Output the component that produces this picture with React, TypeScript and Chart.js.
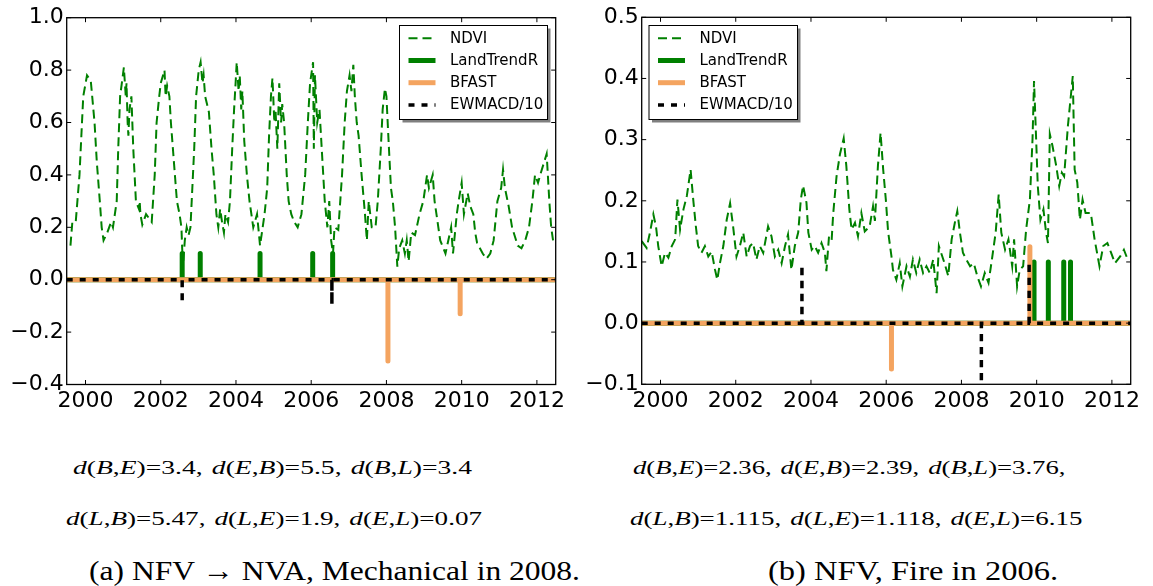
import React, { useEffect, useLayoutEffect, useRef } from 'react';
import { Chart, registerables } from 'chart.js';

Chart.register(...registerables);

// ---------------- data ----------------
const seriesStart = 1999.5;
const seriesEnd = 2012.5;
const xTickYears = [2000, 2002, 2004, 2006, 2008, 2010, 2012];
const yTicksA = [-0.4, -0.2, 0.0, 0.2, 0.4, 0.6, 0.8, 1.0];
const yTicksB = [-0.1, 0.0, 0.1, 0.2, 0.3, 0.4, 0.5];
const seriesLabels = ['NDVI', 'LandTrendR', 'BFAST', 'EWMACD/10'];

// panel (a): NFV -> NVA, mechanical 2008
const ndviYearsA = [
  1999.60, 1999.65, 1999.74, 1999.84, 1999.94, 2000.04, 2000.14, 2000.24, 2000.30, 2000.38,
  2000.43, 2000.48, 2000.58, 2000.68, 2000.73, 2000.83, 2000.87, 2000.92, 2001.02, 2001.07,
  2001.09, 2001.12, 2001.14, 2001.17, 2001.22, 2001.27, 2001.34, 2001.42, 2001.44, 2001.46,
  2001.51, 2001.61, 2001.71, 2001.76, 2001.84, 2001.89, 2001.96, 2002.00, 2002.10, 2002.13,
  2002.17, 2002.23, 2002.27, 2002.35, 2002.43, 2002.50, 2002.55, 2002.57, 2002.59, 2002.64,
  2002.69, 2002.74, 2002.79, 2002.84, 2002.89, 2002.94, 2003.01, 2003.06, 2003.11, 2003.14,
  2003.18, 2003.28, 2003.35, 2003.41, 2003.48, 2003.53, 2003.58, 2003.63, 2003.68, 2003.72,
  2003.79, 2003.84, 2003.90, 2003.95, 2003.99, 2004.02, 2004.07, 2004.10, 2004.14, 2004.17,
  2004.22, 2004.29, 2004.36, 2004.46, 2004.56, 2004.64, 2004.71, 2004.76, 2004.83, 2004.88,
  2004.93, 2004.97, 2005.02, 2005.05, 2005.10, 2005.15, 2005.20, 2005.23, 2005.28, 2005.35,
  2005.40, 2005.47, 2005.55, 2005.64, 2005.74, 2005.84, 2005.91, 2005.97, 2006.05, 2006.07,
  2006.10, 2006.16, 2006.22, 2006.28, 2006.36, 2006.43, 2006.48, 2006.53, 2006.58, 2006.62,
  2006.72, 2006.82, 2006.89, 2006.95, 2007.02, 2007.07, 2007.12, 2007.16, 2007.21, 2007.26,
  2007.34, 2007.43, 2007.48, 2007.53, 2007.61, 2007.71, 2007.77, 2007.85, 2007.90, 2007.96,
  2008.00, 2008.05, 2008.12, 2008.17, 2008.23, 2008.29, 2008.34, 2008.42, 2008.49, 2008.54,
  2008.59, 2008.66, 2008.76, 2008.88, 2008.98, 2009.08, 2009.13, 2009.23, 2009.28, 2009.38,
  2009.43, 2009.57, 2009.72, 2009.77, 2009.87, 2009.92, 2010.00, 2010.06, 2010.16, 2010.23,
  2010.31, 2010.36, 2010.41, 2010.56, 2010.66, 2010.76, 2010.85, 2010.95, 2011.05, 2011.10,
  2011.15, 2011.25, 2011.34, 2011.49, 2011.59, 2011.69, 2011.79, 2011.88, 2011.95, 2012.03,
  2012.13, 2012.26, 2012.33, 2012.38, 2012.43,
];
const ndviValuesA = [
  0.13, 0.22, 0.22, 0.40, 0.70, 0.78, 0.76, 0.60, 0.45, 0.30,
  0.20, 0.15, 0.18, 0.22, 0.20, 0.30, 0.50, 0.70, 0.81, 0.70,
  0.75, 0.60, 0.55, 0.65, 0.70, 0.50, 0.30, 0.27, 0.30, 0.25,
  0.21, 0.25, 0.23, 0.22, 0.40, 0.60, 0.70, 0.75, 0.80, 0.70,
  0.74, 0.70, 0.60, 0.45, 0.30, 0.25, 0.20, 0.12, 0.05, 0.15,
  0.20, 0.17, 0.20, 0.35, 0.50, 0.70, 0.80, 0.83, 0.75, 0.78,
  0.70, 0.64, 0.50, 0.40, 0.25, 0.20, 0.27, 0.22, 0.18, 0.25,
  0.22, 0.30, 0.50, 0.65, 0.75, 0.83, 0.72, 0.78, 0.65, 0.72,
  0.53, 0.40, 0.30, 0.20, 0.25, 0.13, 0.20, 0.25, 0.35, 0.55,
  0.70, 0.77, 0.60, 0.65, 0.50, 0.75, 0.60, 0.67, 0.60, 0.40,
  0.30, 0.25, 0.22, 0.20, 0.25, 0.40, 0.60, 0.75, 0.83, 0.50,
  0.78, 0.60, 0.65, 0.50, 0.30, 0.20, 0.30, 0.15, 0.10, 0.20,
  0.19, 0.40, 0.60, 0.72, 0.78, 0.72, 0.82, 0.70, 0.60, 0.55,
  0.40, 0.25, 0.15, 0.30, 0.20, 0.20, 0.30, 0.50, 0.65, 0.73,
  0.70, 0.55, 0.35, 0.30, 0.20, 0.05, 0.12, 0.15, 0.10, 0.15,
  0.07, 0.18, 0.17, 0.25, 0.30, 0.40, 0.35, 0.40, 0.30, 0.20,
  0.15, 0.10, 0.20, 0.10, 0.25, 0.30, 0.37, 0.25, 0.33, 0.28,
  0.25, 0.18, 0.14, 0.10, 0.08, 0.10, 0.15, 0.30, 0.35, 0.42,
  0.35, 0.28, 0.20, 0.13, 0.12, 0.15, 0.20, 0.30, 0.40, 0.37,
  0.42, 0.48, 0.30, 0.20, 0.15,
];
const ltrBreaksA = [2002.57, 2003.05, 2004.64, 2006.04, 2006.57];
const ltrHeightsA = [0.1, 0.1, 0.1, 0.1, 0.1];
const bfastBreaksA = [2008.04, 2009.96];
const bfastMagsA = [-0.31, -0.13];
const ewmacdBreaksA = [2002.57, 2006.55];
const ewmacdMagsA = [-0.09, -0.095];

// panel (b): NFV, fire 2006
const ndviYearsB = [
  1999.50, 1999.63, 1999.72, 1999.81, 1999.88, 1999.94, 2000.03, 2000.12, 2000.21, 2000.30,
  2000.39, 2000.45, 2000.52, 2000.61, 2000.70, 2000.80, 2000.87, 2000.94, 2001.00, 2001.09,
  2001.18, 2001.27, 2001.36, 2001.45, 2001.51, 2001.58, 2001.67, 2001.76, 2001.85, 2001.93,
  2002.02, 2002.11, 2002.20, 2002.29, 2002.38, 2002.46, 2002.55, 2002.64, 2002.73, 2002.86,
  2002.95, 2003.04, 2003.13, 2003.22, 2003.31, 2003.39, 2003.48, 2003.57, 2003.66, 2003.73,
  2003.79, 2003.88, 2003.93, 2004.02, 2004.10, 2004.19, 2004.28, 2004.37, 2004.41, 2004.48,
  2004.55, 2004.59, 2004.68, 2004.77, 2004.87, 2004.94, 2005.02, 2005.08, 2005.17, 2005.25,
  2005.34, 2005.43, 2005.56, 2005.65, 2005.70, 2005.78, 2005.85, 2005.92, 2005.99, 2006.05,
  2006.14, 2006.18, 2006.27, 2006.36, 2006.43, 2006.54, 2006.63, 2006.71, 2006.80, 2006.89,
  2006.98, 2007.07, 2007.16, 2007.25, 2007.34, 2007.40, 2007.55, 2007.65, 2007.74, 2007.84,
  2007.89, 2007.96, 2008.04, 2008.13, 2008.23, 2008.33, 2008.42, 2008.52, 2008.62, 2008.72,
  2008.81, 2008.91, 2008.99, 2009.06, 2009.16, 2009.25, 2009.35, 2009.40, 2009.48, 2009.55,
  2009.64, 2009.72, 2009.82, 2009.89, 2009.93, 2009.98, 2010.03, 2010.10, 2010.18, 2010.25,
  2010.30, 2010.35, 2010.42, 2010.52, 2010.60, 2010.67, 2010.73, 2010.83, 2010.96, 2011.01,
  2011.08, 2011.15, 2011.22, 2011.30, 2011.44, 2011.54, 2011.67, 2011.77, 2011.88, 2011.98,
  2012.08, 2012.22, 2012.32, 2012.42,
];
const ndviValuesB = [
  0.134, 0.123, 0.148, 0.178, 0.158, 0.126, 0.093, 0.115, 0.107, 0.126,
  0.137, 0.202, 0.153, 0.186, 0.208, 0.251, 0.202, 0.158, 0.126, 0.115,
  0.126, 0.109, 0.117, 0.087, 0.071, 0.098, 0.126, 0.169, 0.196, 0.158,
  0.109, 0.126, 0.148, 0.109, 0.126, 0.131, 0.104, 0.126, 0.115, 0.158,
  0.142, 0.109, 0.120, 0.098, 0.126, 0.145, 0.087, 0.126, 0.148, 0.202,
  0.225, 0.197, 0.148, 0.120, 0.126, 0.115, 0.131, 0.115, 0.085, 0.142,
  0.136, 0.178, 0.240, 0.276, 0.302, 0.257, 0.186, 0.153, 0.164, 0.142,
  0.180, 0.150, 0.158, 0.191, 0.167, 0.257, 0.311, 0.251, 0.202, 0.150,
  0.109, 0.087, 0.071, 0.098, 0.060, 0.093, 0.076, 0.104, 0.082, 0.104,
  0.082, 0.093, 0.082, 0.104, 0.049, 0.126, 0.098, 0.077, 0.137, 0.169,
  0.183, 0.148, 0.115, 0.104, 0.093, 0.098, 0.077, 0.060, 0.082, 0.066,
  0.104, 0.148, 0.210, 0.148, 0.120, 0.137, 0.093, 0.137, 0.060, 0.087,
  0.093, 0.153, 0.202, 0.301, 0.396, 0.311, 0.224, 0.169, 0.186, 0.148,
  0.131, 0.309, 0.290, 0.257, 0.224, 0.246, 0.240, 0.322, 0.404, 0.251,
  0.230, 0.169, 0.202, 0.180, 0.180, 0.137, 0.093, 0.126, 0.131, 0.115,
  0.098, 0.109, 0.120, 0.104,
];
const ltrBreaksB = [2009.93, 2010.31, 2010.72, 2010.90];
const ltrHeightsB = [0.1, 0.1, 0.1, 0.1];
const bfastBreaksB = [2006.14, 2009.82];
const bfastMagsB = [-0.075, 0.125];
const ewmacdBreaksB = [2003.76, 2008.53, 2009.8];
const ewmacdMagsB = [0.095, -0.13, 0.1];

// captions
const distancesA1 = [['B', 'E', '3.4'], ['E', 'B', '5.5'], ['B', 'L', '3.4']];
const distancesA2 = [['L', 'B', '5.47'], ['L', 'E', '1.9'], ['E', 'L', '0.07']];
const distancesB1 = [['B', 'E', '2.36'], ['E', 'B', '2.39'], ['B', 'L', '3.76']];
const distancesB2 = [['L', 'B', '1.115'], ['L', 'E', '1.118'], ['E', 'L', '6.15']];
const captionA = '(a) NFV \u2192 NVA, Mechanical in 2008.';
const captionB = '(b) NFV, Fire in 2006.';

// ---------------- styling ----------------
const GREEN = '#008000';
const ORANGE = '#F4A460';
const BLACK = '#000000';
const TICK_FONT = { family: "'DejaVu Sans', sans-serif", size: 22 };

const fmtY = (v: number) => {
  const s = Math.abs(v) < 1e-9 ? '0.0' : v.toFixed(1);
  return s.replace('-', '\u2212');
};

function spikes(breaks: number[], mags: number[]) {
  const pts: { x: number; y: number }[] = [{ x: seriesStart, y: 0 }];
  breaks.forEach((b, i) => {
    pts.push({ x: b, y: 0 }, { x: b, y: mags[i] }, { x: b, y: 0 });
  });
  pts.push({ x: seriesEnd, y: 0 });
  return pts;
}

const framePlugin = {
  id: 'mplFrame',
  afterDatasetsDraw(chart: any) {
    const { ctx, chartArea } = chart;
    const { left, right, top, bottom } = chartArea;
    const xs = chart.scales.x;
    const ys = chart.scales.y;
    ctx.save();
    ctx.strokeStyle = '#000';
    ctx.lineWidth = 1;
    ctx.setLineDash([]);
    ctx.beginPath();
    xs.ticks.forEach((t: any) => {
      const px = xs.getPixelForValue(t.value);
      ctx.moveTo(px, bottom);
      ctx.lineTo(px, bottom - 4.5);
      ctx.moveTo(px, top);
      ctx.lineTo(px, top + 4.5);
    });
    ys.ticks.forEach((t: any) => {
      const py = ys.getPixelForValue(t.value);
      ctx.moveTo(left, py);
      ctx.lineTo(left + 4.5, py);
      ctx.moveTo(right, py);
      ctx.lineTo(right - 4.5, py);
    });
    ctx.stroke();
    ctx.lineWidth = 1.3;
    ctx.strokeRect(left, top, right - left, bottom - top);
    ctx.restore();
  },
};

const legendPlugin = {
  id: 'mplLegend',
  afterDraw(chart: any, _args: any, opts: any) {
    const { ctx } = chart;
    const { x, y, w, h } = opts;
    ctx.save();
    ctx.fillStyle = 'rgba(0,0,0,0.5)';
    ctx.fillRect(x + 3, y + 3, w, h);
    ctx.fillStyle = '#fff';
    ctx.fillRect(x, y, w, h);
    ctx.strokeStyle = '#000';
    ctx.lineWidth = 1;
    ctx.strokeRect(x, y, w, h);
    chart.data.datasets.forEach((ds: any, i: number) => {
      const cy = y + opts.firstRow + i * opts.rowGap;
      ctx.beginPath();
      ctx.setLineDash(ds.borderDash || []);
      ctx.lineDashOffset = 0;
      ctx.lineCap = 'butt';
      ctx.strokeStyle = ds.borderColor;
      ctx.lineWidth = ds.borderWidth;
      ctx.moveTo(x + opts.handleStart, cy);
      ctx.lineTo(x + opts.handleEnd, cy);
      ctx.stroke();
      ctx.setLineDash([]);
      ctx.fillStyle = '#000';
      ctx.font = "15px 'DejaVu Sans', sans-serif";
      ctx.textBaseline = 'middle';
      ctx.textAlign = 'left';
      ctx.fillText(ds.label, x + opts.textX, cy + 0.5);
    });
    ctx.restore();
  },
};

type Panel = {
  ndviYears: number[];
  ndviValues: number[];
  ltrBreaks: number[];
  ltrHeights: number[];
  bfastBreaks: number[];
  bfastMags: number[];
  ewmacdBreaks: number[];
  ewmacdMags: number[];
  yMin: number;
  yMax: number;
  yTicks: number[];
  yAxisWidth: number;
  xAxisHeight: number;
  padTop: number;
  padRight: number;
  legend: { x: number; y: number; w: number; h: number };
};

function buildConfig(p: Panel): any {
  return {
    type: 'line',
    data: {
      datasets: [
        {
          label: seriesLabels[0],
          data: p.ndviYears.map((x, i) => ({ x, y: p.ndviValues[i] })),
          borderColor: GREEN,
          borderWidth: 2,
          borderDash: [9, 5],
          pointRadius: 0,
          tension: 0,
          fill: false,
          order: 3,
          clip: 0,
        },
        {
          label: seriesLabels[1],
          data: spikes(p.ltrBreaks, p.ltrHeights),
          borderColor: GREEN,
          borderWidth: 5,
          borderJoinStyle: 'round',
          pointRadius: 0,
          fill: false,
          order: 2,
          clip: 0,
        },
        {
          label: seriesLabels[2],
          data: spikes(p.bfastBreaks, p.bfastMags),
          borderColor: ORANGE,
          borderWidth: 5,
          borderJoinStyle: 'round',
          pointRadius: 0,
          fill: false,
          order: 1,
          clip: 0,
        },
        {
          label: seriesLabels[3],
          data: spikes(p.ewmacdBreaks, p.ewmacdMags),
          borderColor: BLACK,
          borderWidth: 3.5,
          borderDash: [6, 7],
          pointRadius: 0,
          fill: false,
          order: 0,
          clip: 0,
        },
      ],
    },
    options: {
      animation: false,
      responsive: false,
      devicePixelRatio: 1,
      events: [],
      layout: { padding: { top: p.padTop, right: p.padRight, left: 0, bottom: 0 } },
      plugins: {
        legend: { display: false },
        tooltip: { enabled: false },
        mplLegend: {
          ...p.legend,
          firstRow: 12.8,
          rowGap: 22.2,
          handleStart: 9,
          handleEnd: 36,
          textX: 50.5,
        },
      },
      scales: {
        x: {
          type: 'linear',
          min: seriesStart,
          max: seriesEnd,
          afterBuildTicks: (s: any) => {
            s.ticks = xTickYears.map((v) => ({ value: v }));
          },
          afterFit: (s: any) => {
            s.height = p.xAxisHeight;
          },
          ticks: {
            callback: (v: any) => String(v),
            font: TICK_FONT,
            color: '#000',
            padding: 4,
            maxRotation: 0,
            autoSkip: false,
          },
          grid: { display: false, drawTicks: false },
          border: { display: false },
        },
        y: {
          type: 'linear',
          min: p.yMin,
          max: p.yMax,
          afterBuildTicks: (s: any) => {
            s.ticks = p.yTicks.map((v) => ({ value: v }));
          },
          afterFit: (s: any) => {
            s.width = p.yAxisWidth;
          },
          ticks: {
            callback: (v: any) => fmtY(Number(v)),
            font: TICK_FONT,
            color: '#000',
            padding: 3,
            autoSkip: false,
          },
          grid: { display: false, drawTicks: false },
          border: { display: false },
        },
      },
    },
    plugins: [framePlugin, legendPlugin],
  };
}

const panelA: Panel = {
  ndviYears: ndviYearsA,
  ndviValues: ndviValuesA,
  ltrBreaks: ltrBreaksA,
  ltrHeights: ltrHeightsA,
  bfastBreaks: bfastBreaksA,
  bfastMags: bfastMagsA,
  ewmacdBreaks: ewmacdBreaksA,
  ewmacdMags: ewmacdMagsA,
  yMin: -0.4,
  yMax: 1.0,
  yTicks: yTicksA,
  yAxisWidth: 66.7,
  xAxisHeight: 35.5,
  padTop: 17.7,
  padRight: 20.3,
  legend: { x: 399.5, y: 25.5, w: 148, h: 94 },
};

const panelB: Panel = {
  ndviYears: ndviYearsB,
  ndviValues: ndviValuesB,
  ltrBreaks: ltrBreaksB,
  ltrHeights: ltrHeightsB,
  bfastBreaks: bfastBreaksB,
  bfastMags: bfastMagsB,
  ewmacdBreaks: ewmacdBreaksB,
  ewmacdMags: ewmacdMagsB,
  yMin: -0.1,
  yMax: 0.5,
  yTicks: yTicksB,
  yAxisWidth: 65.7,
  xAxisHeight: 35.7,
  padTop: 17.3,
  padRight: 22.3,
  legend: { x: 73, y: 25.5, w: 148.5, h: 94 },
};

function PanelChart({ left, width, height, panel }: { left: number; width: number; height: number; panel: Panel }) {
  const ref = useRef<HTMLCanvasElement>(null);
  useEffect(() => {
    const chart = new Chart(ref.current as HTMLCanvasElement, buildConfig(panel));
    return () => chart.destroy();
  }, [panel]);
  return (
    <canvas
      ref={ref}
      width={width}
      height={height}
      style={{ position: 'absolute', left, top: 0, width, height, display: 'block' }}
    />
  );
}

function FitText({ left, width, baseline, fontSize, children }: any) {
  const ref = useRef<HTMLDivElement>(null);
  useLayoutEffect(() => {
    const el = ref.current;
    if (!el) return;
    el.style.transform = 'none';
    const natural = el.getBoundingClientRect().width;
    if (natural > 0) el.style.transform = `scaleX(${width / natural})`;
  });
  return (
    <div
      ref={ref}
      style={{
        position: 'absolute',
        left,
        top: baseline - 0.8375 * fontSize,
        fontSize,
        lineHeight: `${fontSize}px`,
        fontFamily: "'Liberation Serif', 'DejaVu Serif', serif",
        whiteSpace: 'nowrap',
        transformOrigin: 'left top',
        color: '#000',
      }}
    >
      {children}
    </div>
  );
}

function DistanceRow({ items, trailingComma }: { items: string[][]; trailingComma?: boolean }) {
  return (
    <>
      {items.map((it, k) => (
        <React.Fragment key={k}>
          <i>d</i>(<i>{it[0]}</i>,<i>{it[1]}</i>)={it[2]}
          {k < items.length - 1 || trailingComma ? ',' : ''}
          {k < items.length - 1 ? '\u2004' : ''}
        </React.Fragment>
      ))}
    </>
  );
}

export default function App() {
  return (
    <div
      style={{
        position: 'absolute',
        left: 0,
        top: 0,
        width: 1153,
        height: 586,
        background: '#fff',
        overflow: 'hidden',
      }}
    >
      <PanelChart left={0} width={576} height={420} panel={panelA} />
      <PanelChart left={576} width={577} height={420} panel={panelB} />

      <FitText left={72.7} width={399} baseline={474.3} fontSize={18}>
        <DistanceRow items={distancesA1} />
      </FitText>
      <FitText left={65.7} width={416} baseline={525} fontSize={18}>
        <DistanceRow items={distancesA2} />
      </FitText>
      <FitText left={89} width={491} baseline={580} fontSize={28}>
        {captionA}
      </FitText>

      <FitText left={632.7} width={432.4} baseline={474.3} fontSize={18}>
        <DistanceRow items={distancesB1} trailingComma />
      </FitText>
      <FitText left={630} width={452.4} baseline={525} fontSize={18}>
        <DistanceRow items={distancesB2} />
      </FitText>
      <FitText left={768} width={290} baseline={580} fontSize={28}>
        {captionB}
      </FitText>
    </div>
  );
}
